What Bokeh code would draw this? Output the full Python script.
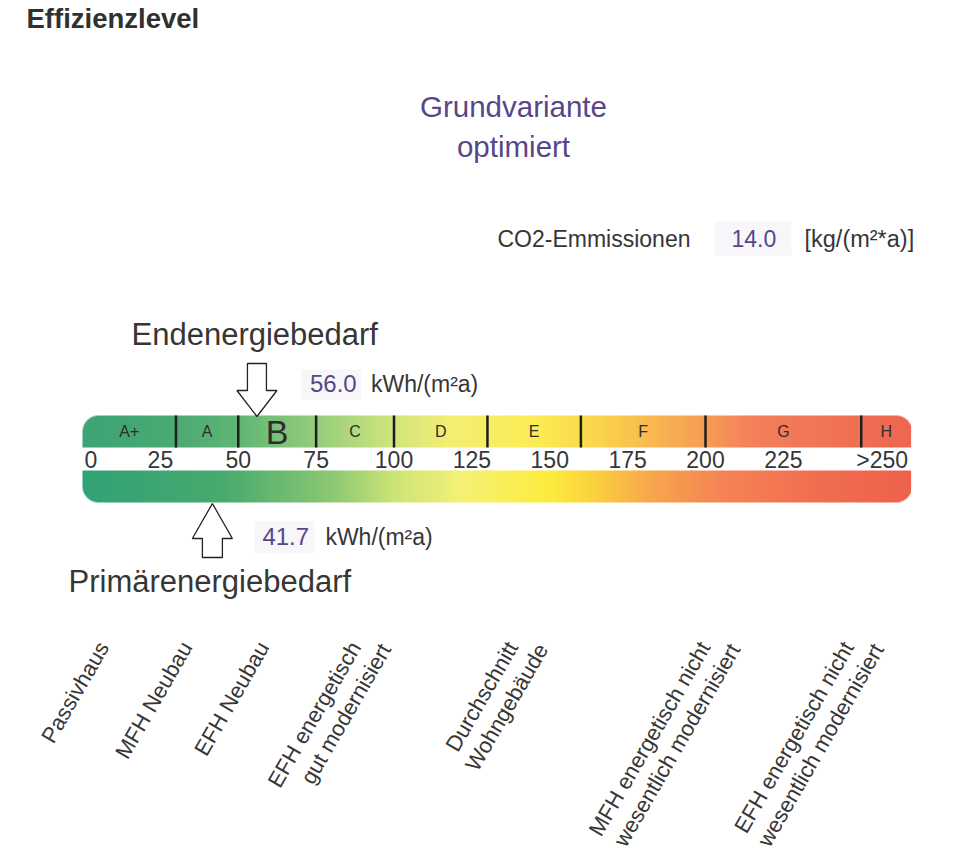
import numpy as np
from bokeh.plotting import figure
from bokeh.models import Range1d, ColumnDataSource
from bokeh.core.properties import value
from bokeh.embed import file_html
from bokeh.resources import INLINE

# ------------------------------------------------------------------ data
title = "Effizienzlevel"
variant_lines = ["Grundvariante", "optimiert"]
co2_label = "CO2-Emmissionen"
co2_value = 14.0
co2_unit = "[kg/(m²*a)]"
end_label = "Endenergiebedarf"
end_value = 56.0
prim_label = "Primärenergiebedarf"
prim_value = 41.7
energy_unit = "kWh/(m²a)"

class_names = ["A+", "A", "B", "C", "D", "E", "F", "G", "H"]
class_bounds = [0, 30, 50, 75, 100, 130, 160, 200, 250, 266]   # last = end of scale
tick_values = [0, 25, 50, 75, 100, 125, 150, 175, 200, 225, 250]
tick_labels = ["0", "25", "50", "75", "100", "125", "150", "175", "200", "225", ">250"]

ref_names = ["Passivhaus", "MFH Neubau", "EFH Neubau",
             "EFH energetisch\ngut modernisiert",
             "Durchschnitt\nWohngebäude",
             "MFH energetisch nicht\nwesentlich modernisiert",
             "EFH energetisch nicht\nwesentlich modernisiert"]
ref_kwh = [6.7, 33.4, 58.1, 87.6, 138.0, 199.7, 245.8]

# ------------------------------------------------------------------ layout / style
W, H = 960, 857
PX0, S = 82.0, 3.115          # pixel of 0 kWh, pixels per kWh
FONT = value("Liberation Sans")
DARK = "#363636"
PURPLE = "#58468a"
FIELD = "#f7f7f9"


def X(px):
    return (px - PX0) / S


def Y(py):
    return H - py


p = figure(width=W, height=H, x_range=Range1d(X(0), X(W)), y_range=Range1d(0, H),
           output_backend="svg", toolbar_location=None, min_border=0,
           x_axis_location=None, y_axis_location=None,
           background_fill_color="white", border_fill_color="white", outline_line_color=None)
p.xgrid.visible = False
p.ygrid.visible = False


def label(x, y, text, size, color=DARK, align="left", style="normal", x_offset=0):
    p.text(x=x, y=y, text=text, text_font=FONT, text_font_size=size, text_font_style=style,
           text_color=color, text_align=align, text_baseline="middle", x_offset=x_offset)


# ------------------------------------------------------------------ gradient bars
top_stops = [(0, (60, 164, 118)), (30, (76, 170, 114)), (50, (96, 182, 118)),
             (75, (150, 205, 125)), (100, (210, 229, 125)), (118, (243, 239, 115)),
             (145, (252, 236, 85)), (165, (251, 214, 75)), (198, (246, 160, 85)),
             (215, (243, 128, 90)), (266, (238, 102, 80))]
bot_stops = [(0, (50, 162, 118)), (45, (72, 170, 110)), (80, (140, 200, 115)),
             (100, (205, 228, 118)), (122, (246, 241, 118)), (150, (253, 236, 62)),
             (165, (251, 208, 62)), (182, (248, 168, 76)), (205, (245, 132, 85)),
             (235, (242, 110, 80)), (266, (238, 98, 75))]

BAR_H = 32
RADIUS = 16


def bar_image(stops, round_top):
    n_cols = int(round(class_bounds[-1] * S))
    n_rows = BAR_H
    kx = (np.arange(n_cols) + 0.5) / S
    sk = [s[0] for s in stops]
    sc = np.array([s[1] for s in stops], dtype=float)
    img = np.zeros((n_rows, n_cols), dtype=np.uint32)
    view = img.view(dtype=np.uint8).reshape((n_rows, n_cols, 4))
    for ch in range(3):
        view[:, :, ch] = np.interp(kx, sk, sc[:, ch]).astype(np.uint8)[None, :]
    PXg, PYg = np.meshgrid(np.arange(n_cols) + 0.5, np.arange(n_rows) + 0.5)
    alpha = np.ones((n_rows, n_cols))
    cy = n_rows - RADIUS if round_top else RADIUS
    vert = (PYg > cy) if round_top else (PYg < cy)
    for cx, horiz in [(RADIUS, PXg < RADIUS), (n_cols - RADIUS, PXg > n_cols - RADIUS)]:
        m = vert & horiz
        d = np.hypot(PXg - cx, PYg - cy)
        alpha = np.where(m, np.clip(RADIUS - d + 0.5, 0, 1), alpha)
    view[:, :, 3] = (alpha * 255).astype(np.uint8)
    return img


p.image_rgba(image=[bar_image(top_stops, True)], x=0, y=Y(447), dw=class_bounds[-1], dh=BAR_H)
p.image_rgba(image=[bar_image(bot_stops, False)], x=0, y=Y(502), dw=class_bounds[-1], dh=BAR_H)

# class separators
inner = class_bounds[1:-1]
p.segment(x0=inner, y0=[Y(447)] * len(inner), x1=inner, y1=[Y(415)] * len(inner),
          line_color="#1e1e1e", line_width=2.5)

# class labels (the class of the end energy value is drawn large)
centers = [(a + b) / 2 for a, b in zip(class_bounds[:-1], class_bounds[1:])]
sizes = ["34px" if a <= end_value < b else "16px" for a, b in zip(class_bounds[:-1], class_bounds[1:])]
cls_src = ColumnDataSource(dict(x=centers, y=[Y(431)] * len(centers), t=class_names, s=sizes))
p.text(x="x", y="y", text="t", text_font_size="s", source=cls_src, text_font=FONT,
       text_color="#2e2e2e", text_align="center", text_baseline="middle")

# tick labels
TICK_Y = Y(459)
label([tick_values[0]], [TICK_Y], [tick_labels[0]], "23px", x_offset=2)
label(tick_values[1:-1], [TICK_Y] * (len(tick_values) - 2), tick_labels[1:-1], "23px", align="center")
label([class_bounds[-1]], [TICK_Y], [tick_labels[-1]], "23px", align="right", x_offset=-3)

# ------------------------------------------------------------------ arrows
down_shape = [(0, 0), (-20, -26), (-9.5, -26), (-9.5, -53), (9.5, -53), (9.5, -26), (20, -26)]
up_shape = [(0, 0), (20, 35), (10, 35), (10, 54), (-10, 54), (-10, 35), (-20, 35)]
p.patch(x=[end_value + dx / S for dx, dy in down_shape], y=[Y(416 + dy) for dx, dy in down_shape],
        fill_color="white", line_color="#222222", line_width=1.3)
p.patch(x=[prim_value + dx / S for dx, dy in up_shape], y=[Y(503 + dy) for dx, dy in up_shape],
        fill_color="white", line_color="#222222", line_width=1.3)

# value fields
p.quad(left=[end_value + 44 / S, prim_value + 42 / S, X(714)],
       right=[end_value + 104 / S, prim_value + 102 / S, X(791)],
       top=[Y(369), Y(521), Y(221)], bottom=[Y(399), Y(553), Y(255)],
       fill_color=FIELD, line_color=None)

label([end_value], [Y(383)], [f"{end_value:.1f}"], "24px", color=PURPLE, x_offset=53)
label([end_value], [Y(383)], [energy_unit], "23px", x_offset=114)
label([prim_value], [Y(536)], [f"{prim_value:.1f}"], "24px", color=PURPLE, x_offset=50)
label([prim_value], [Y(536)], [energy_unit], "23px", x_offset=113)

label([X(131)], [Y(334)], [end_label], "31px")
label([X(68)], [Y(581)], [prim_label], "31px")

# ------------------------------------------------------------------ header texts
label([X(26)], [Y(18)], [title], "27.5px", color="#303030", style="bold")
label([X(513)] * 2, [Y(106), Y(146)], variant_lines, "29.5px", color=PURPLE, align="center")
label([X(497)], [Y(238)], [co2_label], "23px")
label([X(731)], [Y(238)], [f"{co2_value:.1f}"], "23px", color=PURPLE)
label([X(804)], [Y(238)], [co2_unit], "23.5px")

# ------------------------------------------------------------------ rotated reference labels
lx, ly, lt = [], [], []
for pos, name in zip(ref_kwh, ref_names):
    for i, line in enumerate(name.split("\n")):
        lx.append(pos + i * 30 / S)
        ly.append(Y(643 + i * 2))
        lt.append(line)
p.text(x=lx, y=ly, text=lt, angle=np.pi / 3, text_font=FONT, text_font_size="22px",
       text_color=DARK, text_align="right", text_baseline="alphabetic")

open("out.html", "w").write(file_html(p, INLINE))
